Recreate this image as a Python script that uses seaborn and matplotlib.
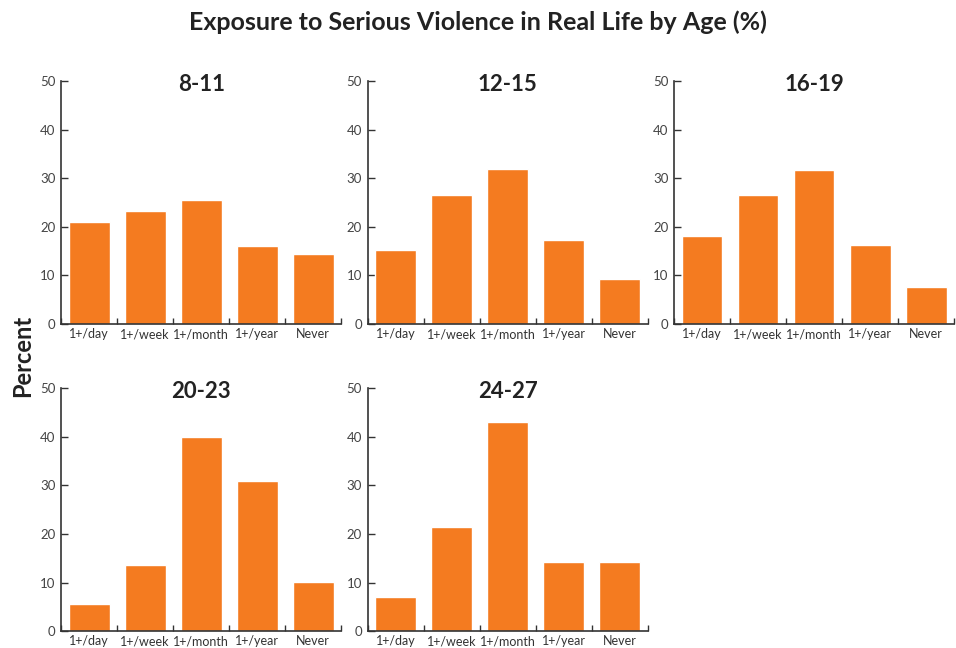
import numpy as np
import pandas as pd
import matplotlib.pyplot as plt
import seaborn as sns

# Data
frequencies = ["1+/day", "1+/week", "1+/month", "1+/year", "Never"]
age_groups = ["8-11", "12-15", "16-19", "20-23", "24-27"]
age_8_11 = [21.0, 23.2, 25.5, 16.0, 14.4]
age_12_15 = [15.2, 26.5, 31.9, 17.3, 9.3]
age_16_19 = [18.1, 26.5, 31.7, 16.3, 7.6]
age_20_23 = [5.6, 13.6, 39.9, 30.8, 10.1]
age_24_27 = [7.0, 21.5, 43.0, 14.3, 14.3]

values = [age_8_11, age_12_15, age_16_19, age_20_23, age_24_27]

sns.set_style("ticks")
plt.rcParams["font.family"] = ["Lato", "DejaVu Sans"]

bar_color = "#F47B20"
axis_color = "#333333"

fig, axes = plt.subplots(2, 3, figsize=(9.56, 6.48), dpi=100)
fig.subplots_adjust(left=0.064, right=0.998, top=0.875, bottom=0.026,
                    wspace=0.094, hspace=0.264)

for ax, group, vals in zip(axes.flat, age_groups, values):
    df = pd.DataFrame({"Frequency": frequencies, "Percent": vals})
    sns.barplot(data=df, x="Frequency", y="Percent", color=bar_color,
                saturation=1, width=0.73, ax=ax)
    ax.set_xlim(-0.5, len(frequencies) - 0.5)
    ax.set_ylim(0, 50)
    ax.set_yticks(np.arange(0, 51, 10))
    ax.set_xlabel("")
    ax.set_ylabel("")
    ax.text(0.5, 0.985, group, transform=ax.transAxes, ha="center", va="center",
            fontsize=16, fontweight="bold", color="#222222")
    ax.set_xticks(np.arange(len(frequencies)))
    ax.set_xticklabels(frequencies)
    ax.set_xticks(np.arange(-0.5, len(frequencies), 1), minor=True)
    ax.tick_params(axis="x", which="major", length=0, pad=3,
                   labelsize=9, labelcolor="#333333")
    ax.tick_params(axis="x", which="minor", direction="in", length=4,
                   width=1, color=axis_color)
    ax.tick_params(axis="y", direction="in", length=5, width=1, pad=4,
                   labelsize=9.5, labelcolor="#444444", color=axis_color)
    sns.despine(ax=ax)
    for side in ["left", "bottom"]:
        ax.spines[side].set_color(axis_color)
        ax.spines[side].set_linewidth(1.2)

axes.flat[-1].remove()

fig.suptitle("Exposure to Serious Violence in Real Life by Age (%)",
             fontsize=18, fontweight="bold", color="#222222",
             x=0.5, y=0.966, va="center")
fig.text(0.024, 0.451, "Percent", rotation=90, fontsize=17, fontweight="bold",
         color="#222222", ha="center", va="center")

fig.savefig("out.png", dpi=100)
